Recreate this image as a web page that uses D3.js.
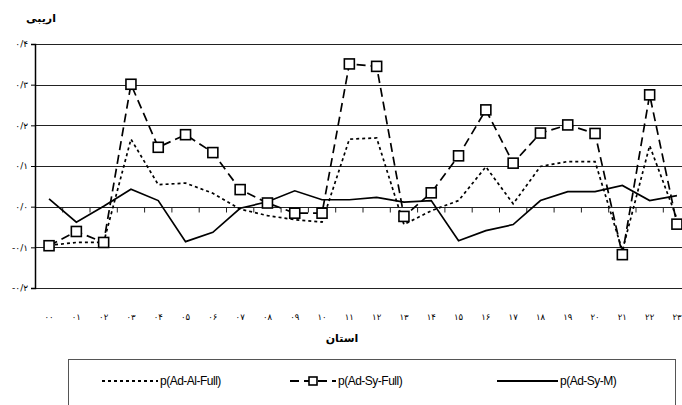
<!DOCTYPE html>
<html>
<head>
<meta charset="utf-8">
<script src="https://cdn.jsdelivr.net/npm/d3@7"></script>
<style>
  body { margin: 0; background: #fff; }
  svg { display: block; }
</style>
</head>
<body>
<div id="chart"></div>
<script>
// categories (province codes) and the three series of bias values
var categories = ["00","01","02","03","04","05","06","07","08","09","10","11",
                  "12","13","14","15","16","17","18","19","20","21","22","23"];

var adAlFull = [-0.095, -0.088, -0.088, 0.166, 0.054, 0.058, 0.033, -0.006, -0.022, -0.032, -0.038, 0.166,
                0.169, -0.044, -0.010, 0.015, 0.098, 0.007, 0.099, 0.111, 0.111, -0.108, 0.150, -0.030];

var adSyFull = [-0.096, -0.061, -0.088, 0.301, 0.146, 0.177, 0.133, 0.042, 0.009, -0.016, -0.016, 0.351,
                0.345, -0.024, 0.034, 0.125, 0.238, 0.107, 0.181, 0.201, 0.180, -0.118, 0.275, -0.043];

var adSyM = [0.019, -0.038, 0.001, 0.043, 0.015, -0.086, -0.063, -0.004, 0.012, 0.039, 0.017, 0.017,
             0.023, 0.011, 0.015, -0.084, -0.059, -0.044, 0.015, 0.037, 0.037, 0.052, 0.015, 0.027];

var yTicks = [-0.2, -0.1, 0, 0.1, 0.2, 0.3, 0.4];
var seriesNames = ["p(Ad-Al-Full)", "p(Ad-Sy-Full)", "p(Ad-Sy-M)"];

var width = 682, height = 405;
var faDigits = "۰۱۲۳۴۵۶۷۸۹";
function toFa(s) { return String(s).replace(/[0-9]/g, function(c) { return faDigits[+c]; }); }
function fmtY(d) {
    var n = Math.round(Math.abs(d) * 10);
    return (d < 0 ? "-" : "") + toFa("0") + "/" + toFa(n);
}

var svg = d3.select("#chart").append("svg")
    .attr("width", width)
    .attr("height", height);

var x = d3.scaleBand()
    .domain(categories)
    .range([35.4, 35.4 + 24 * 27.3])
    .padding(0);

var y = d3.scaleLinear()
    .domain([-0.2, 0.4])
    .range([288, 44]);

function cx(d, i) { return x(categories[i]) + x.bandwidth() / 2; }

// gridlines
svg.append("g")
    .selectAll("line")
    .data(yTicks)
    .enter().append("line")
    .attr("x1", x.range()[0])
    .attr("x2", x.range()[1])
    .attr("y1", d => Math.round(y(d)) + 0.5)
    .attr("y2", d => Math.round(y(d)) + 0.5)
    .attr("stroke", "#222")
    .attr("stroke-width", 1);

// y axis
var yAxis = svg.append("g")
    .attr("transform", "translate(" + Math.round(x.range()[0]) + ",0)")
    .call(d3.axisLeft(y).tickValues(yTicks).tickFormat(fmtY).tickSize(4).tickPadding(3));
yAxis.select(".domain").attr("stroke", "#000").attr("stroke-width", 1.5);
yAxis.selectAll(".tick line").attr("stroke", "#000");
yAxis.selectAll("text")
    .attr("font-family", "DejaVu Sans")
    .attr("font-size", 9)
    .attr("direction", "ltr")
    .attr("fill", "#000");

// x ticks on the zero line, category labels below the plot
var xAxis = svg.append("g")
    .attr("transform", "translate(0," + (Math.round(y(0)) + 0.5) + ")");
xAxis.selectAll("line")
    .data(categories.slice(1))
    .enter().append("line")
    .attr("x1", d => x(d))
    .attr("x2", d => x(d))
    .attr("y1", 0)
    .attr("y2", 5)
    .attr("stroke", "#222");

svg.append("g")
    .selectAll("text")
    .data(categories)
    .enter().append("text")
    .attr("x", d => x(d) + x.bandwidth() / 2)
    .attr("y", 320)
    .attr("text-anchor", "middle")
    .attr("font-family", "DejaVu Sans")
    .attr("font-size", 8.5)
    .text(d => toFa(d));

// axis titles
svg.append("text")
    .attr("x", 41).attr("y", 22)
    .attr("text-anchor", "middle")
    .attr("font-family", "DejaVu Sans")
    .attr("font-weight", "bold")
    .attr("font-size", 11)
    .text("اریبی");

svg.append("text")
    .attr("x", 342).attr("y", 342)
    .attr("text-anchor", "middle")
    .attr("font-family", "DejaVu Sans")
    .attr("font-weight", "bold")
    .attr("font-size", 11)
    .text("استان");

// lines
var line = d3.line()
    .x(cx)
    .y(d => y(d));

svg.append("path")
    .datum(adSyM)
    .attr("d", line)
    .attr("fill", "none")
    .attr("stroke", "#000")
    .attr("stroke-width", 1.7);

svg.append("path")
    .datum(adAlFull)
    .attr("d", line)
    .attr("fill", "none")
    .attr("stroke", "#000")
    .attr("stroke-width", 1.7)
    .attr("stroke-dasharray", "3,3");

svg.append("path")
    .datum(adSyFull)
    .attr("d", line)
    .attr("fill", "none")
    .attr("stroke", "#000")
    .attr("stroke-width", 1.7)
    .attr("stroke-dasharray", "9,5");

svg.append("g")
    .selectAll("rect")
    .data(adSyFull)
    .enter().append("rect")
    .attr("x", (d, i) => cx(d, i) - 5)
    .attr("y", d => y(d) - 5)
    .attr("width", 10)
    .attr("height", 10)
    .attr("fill", "#fff")
    .attr("stroke", "#000")
    .attr("stroke-width", 1.6);

// legend
var legend = svg.append("g");
legend.append("rect")
    .attr("x", 68.5).attr("y", 359.5)
    .attr("width", 607).attr("height", 60)
    .attr("fill", "#fff")
    .attr("stroke", "#555")
    .attr("stroke-width", 1);

var legendItems = [
    { name: seriesNames[0], x1: 102, x2: 158, dash: "3,3", marker: false },
    { name: seriesNames[1], x1: 290, x2: 336, dash: "9,5", marker: true },
    { name: seriesNames[2], x1: 497, x2: 558, dash: null, marker: false }
];
var ly = 381;
legendItems.forEach(function(it) {
    legend.append("line")
        .attr("x1", it.x1).attr("x2", it.x2)
        .attr("y1", ly).attr("y2", ly)
        .attr("stroke", "#000")
        .attr("stroke-width", 2)
        .attr("stroke-dasharray", it.dash);
    if (it.marker) {
        legend.append("rect")
            .attr("x", (it.x1 + it.x2) / 2 - 4).attr("y", ly - 4)
            .attr("width", 8).attr("height", 8)
            .attr("fill", "#fff")
            .attr("stroke", "#000")
            .attr("stroke-width", 1.6);
    }
    legend.append("text")
        .attr("x", it.x2 + 2).attr("y", ly + 4)
        .attr("font-family", "Liberation Sans")
        .attr("font-size", 12)
        .attr("letter-spacing", -0.5)
        .text(it.name);
});
</script>
</body>
</html>
